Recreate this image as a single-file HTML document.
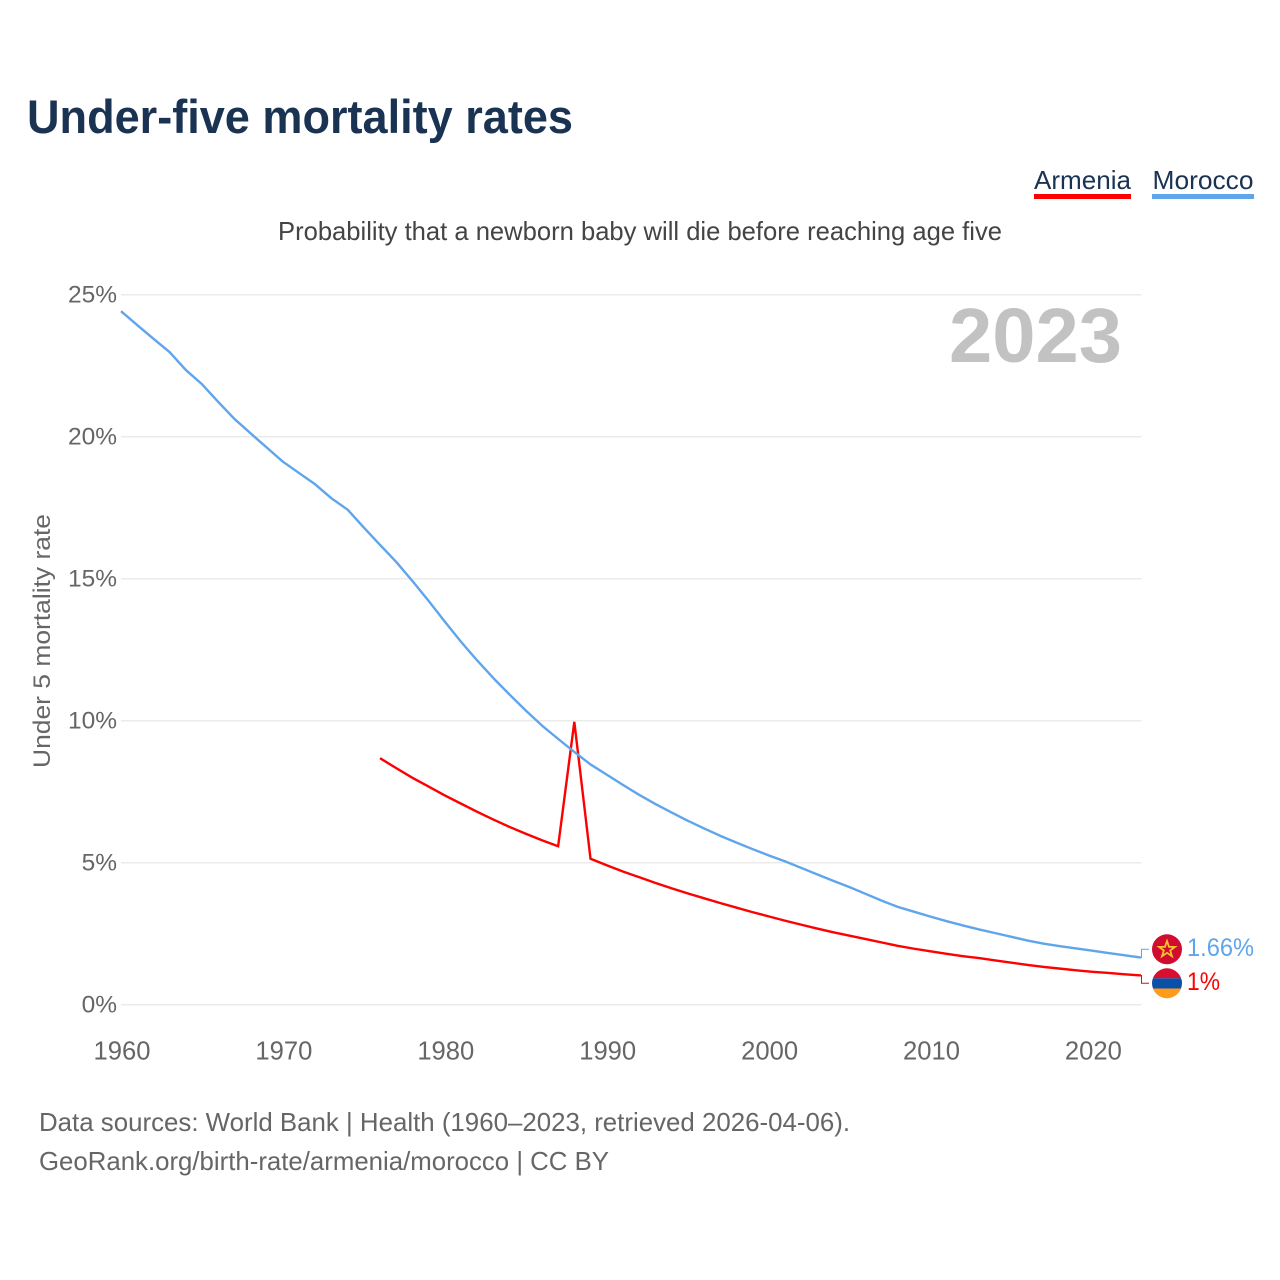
<!DOCTYPE html>
<html>
<head>
<meta charset="utf-8">
<title>Under-five mortality rates</title>
<style>
html,body{margin:0;padding:0;background:#fff}
svg{display:block}
text{font-family:"Liberation Sans",sans-serif}
</style>
</head>
<body>
<svg id="chart" width="1280" height="1280" viewBox="0 0 1280 1280" xmlns="http://www.w3.org/2000/svg">
<rect width="1280" height="1280" fill="#fff"/>
<text x="27" y="133" font-size="47" font-weight="700" fill="#1a3352" textLength="546" lengthAdjust="spacingAndGlyphs">Under-five mortality rates</text>
<text x="1034" y="189" font-size="26" fill="#1a3352" textLength="97" lengthAdjust="spacingAndGlyphs">Armenia</text>
<rect x="1034" y="194" width="97" height="5" fill="#ff0000"/>
<text x="1152.500" y="189" font-size="26" fill="#1a3352" textLength="101" lengthAdjust="spacingAndGlyphs">Morocco</text>
<rect x="1152" y="194" width="102" height="5" fill="#5fa5ec"/>
<text x="278" y="240" font-size="26" fill="#444" textLength="724" lengthAdjust="spacingAndGlyphs">Probability that a newborn baby will die before reaching age five</text>
<g id="grid"></g>
<g id="yticks"></g>
<g id="xticks"></g>
<text transform="translate(50,641) rotate(-90)" text-anchor="middle" font-size="24.500" fill="#666" textLength="254" lengthAdjust="spacingAndGlyphs">Under 5 mortality rate</text>
<text x="949" y="362" font-size="77" font-weight="700" fill="#c2c2c2" textLength="173" lengthAdjust="spacingAndGlyphs">2023</text>
<g id="series"></g>
<g>
<circle cx="1167" cy="949.300" r="15" fill="#d00c30"/>
<polygon points="1167,941 1169,946.800 1175,946.900 1170.200,950.500 1172,956.300 1167,952.800 1162,956.300 1163.800,950.500 1159,946.900 1165,946.800" fill="none" stroke="#f7c22c" stroke-width="1.800"/>
</g>
<g>
<clipPath id="armenia-clip"><circle cx="1167" cy="983.300" r="15"/></clipPath>
<g clip-path="url(#armenia-clip)">
<rect x="1152" y="968" width="30" height="10.300" fill="#d90f30"/>
<rect x="1152" y="978.300" width="30" height="10.200" fill="#0a4fa8"/>
<rect x="1152" y="988.500" width="30" height="10.500" fill="#ff9a1a"/>
</g>
</g>
<text x="1187" y="956" font-size="25" fill="#5fa5ec" textLength="67" lengthAdjust="spacingAndGlyphs">1.66%</text>
<text x="1187" y="990" font-size="25" fill="#ff0000" textLength="33" lengthAdjust="spacingAndGlyphs">1%</text>
<text x="39" y="1131" font-size="26" fill="#666" textLength="811" lengthAdjust="spacingAndGlyphs">Data sources: World Bank | Health (1960–2023, retrieved 2026-04-06).</text>
<text x="39" y="1170" font-size="26" fill="#666" textLength="570" lengthAdjust="spacingAndGlyphs">GeoRank.org/birth-rate/armenia/morocco | CC BY</text>
</svg>
<script>
const yTickValues = [0, 5, 10, 15, 20, 25];
const xTickYears = [1960, 1970, 1980, 1990, 2000, 2010, 2020];
const moroccoStartYear = 1960;
const moroccoValues = [24.42,23.93,23.45,22.98,22.35,21.85,21.23,20.63,20.12,19.62,19.12,18.72,18.32,17.83,17.43,16.80,16.19,15.59,14.92,14.22,13.49,12.78,12.12,11.50,10.92,10.36,9.83,9.36,8.90,8.46,8.10,7.74,7.39,7.07,6.77,6.48,6.21,5.95,5.71,5.48,5.26,5.05,4.82,4.59,4.36,4.14,3.90,3.66,3.44,3.27,3.10,2.94,2.79,2.65,2.52,2.39,2.26,2.15,2.06,1.98,1.90,1.82,1.74,1.66];
const armeniaStartYear = 1976;
const armeniaValues = [8.68,8.33,7.99,7.68,7.37,7.08,6.79,6.52,6.26,6.02,5.79,5.58,9.96,5.14,4.91,4.69,4.49,4.29,4.10,3.92,3.75,3.58,3.42,3.26,3.11,2.96,2.82,2.68,2.55,2.43,2.31,2.19,2.07,1.97,1.88,1.79,1.71,1.64,1.56,1.48,1.40,1.33,1.27,1.21,1.16,1.12,1.07,1.03];
const lastYear = 2023;

const NS = 'http://www.w3.org/2000/svg';
function xScale(year) { return 121 + (year - 1960) * 16.19; }
function yScale(value) { return 1004.7 - value * 28.4; }
function make(tag, parent, attrs, text) {
  const el = document.createElementNS(NS, tag);
  for (const k in attrs) el.setAttribute(k, attrs[k]);
  if (text !== undefined) el.textContent = text;
  parent.appendChild(el);
  return el;
}
const grid = document.getElementById('grid');
const yticks = document.getElementById('yticks');
const xticks = document.getElementById('xticks');
const series = document.getElementById('series');

yTickValues.forEach(function (v) {
  const line = make('line', grid, {x1: xScale(1960), x2: xScale(lastYear) + 0.5, y1: yScale(v), y2: yScale(v), stroke: '#ebebeb', 'stroke-width': 1.5});
  
  
  const label = make('text', yticks, {x: 117, y: yScale(v) + 8, 'text-anchor': 'end', 'font-size': 24.500, fill: '#666'}, v + '%');
  
  
});
xTickYears.forEach(function (y) {
  const label = make('text', xticks, {x: xScale(y) + 1, y: 1059.500, 'text-anchor': 'middle', 'font-size': 25.600, fill: '#666'}, String(y));
  
  
});
function linePoints(start, values) {
  return values.map(function (v, i) { return xScale(start + i).toFixed(2) + ',' + yScale(v).toFixed(2); }).join(' ');
}
const armeniaLine = make('polyline', series, {points: linePoints(armeniaStartYear, armeniaValues), fill: 'none', stroke: '#ff0000', 'stroke-width': 2.400, 'stroke-linejoin': 'miter'});


const moroccoLine = make('polyline', series, {points: linePoints(moroccoStartYear, moroccoValues), fill: 'none', stroke: '#5fa5ec', 'stroke-width': 2.400, 'stroke-linejoin': 'round'});



const moroccoEndY = yScale(moroccoValues[moroccoValues.length - 1]);
const armeniaEndY = yScale(armeniaValues[armeniaValues.length - 1]);
const endX = xScale(lastYear);
const moroccoLeader = make('polyline', series, {points: endX + ',' + moroccoEndY + ' 1141.500,' + moroccoEndY + ' 1141.500,949.300 1149,949.300', fill: 'none', stroke: '#5fa5ec', 'stroke-width': 1});


const armeniaLeader = make('polyline', series, {points: endX + ',' + armeniaEndY + ' 1141.500,' + armeniaEndY + ' 1141.500,983.300 1149,983.300', fill: 'none', stroke: '#ff0000', 'stroke-width': 1});


</script>
</body>
</html>
